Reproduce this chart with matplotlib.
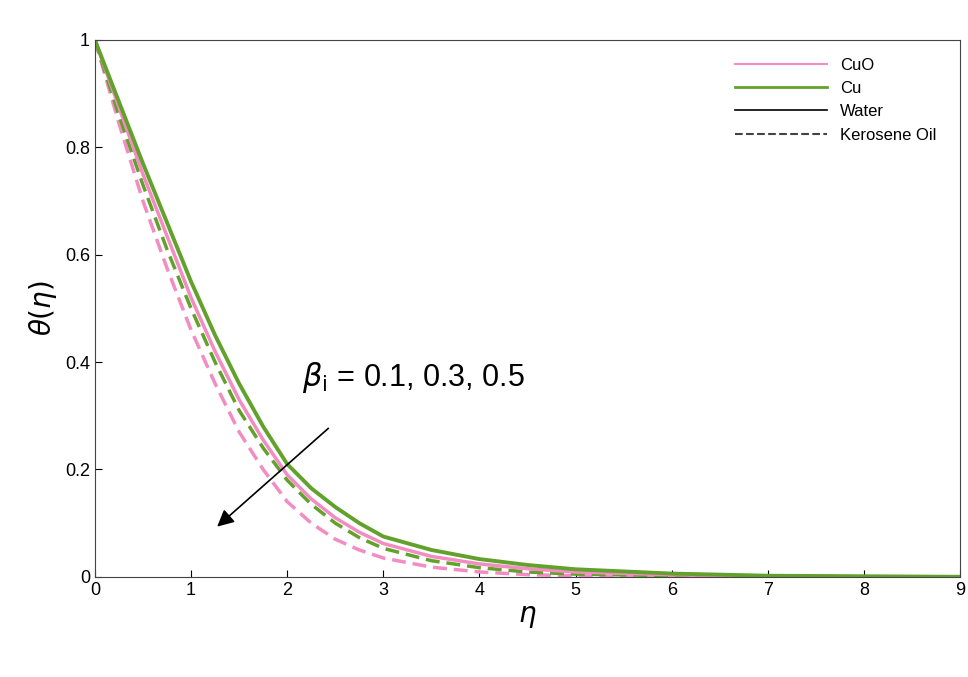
import matplotlib
matplotlib.use("Agg")
import matplotlib.pyplot as plt
from matplotlib.lines import Line2D

plt.rcParams["font.family"] = "Liberation Sans"

eta = [0, 0.25, 0.5, 0.75, 1, 1.25, 1.5, 1.75, 2, 2.25, 2.5, 2.75, 3, 3.5, 4, 4.5, 5, 6, 7, 8, 9]
cu_water =  [1, 0.885, 0.77, 0.66, 0.55, 0.45, 0.36, 0.28, 0.21, 0.165, 0.13, 0.10, 0.075, 0.05, 0.033, 0.022, 0.014, 0.006, 0.002, 0.001, 0]
cuo_water = [1, 0.875, 0.75, 0.635, 0.52, 0.42, 0.33, 0.255, 0.19, 0.145, 0.11, 0.083, 0.062, 0.038, 0.024, 0.015, 0.009, 0.004, 0.001, 0, 0]
cu_kero =   [1, 0.86, 0.73, 0.61, 0.50, 0.40, 0.31, 0.24, 0.18, 0.135, 0.10, 0.073, 0.053, 0.03, 0.017, 0.009, 0.005, 0.002, 0.001, 0, 0]
cuo_kero =  [1, 0.845, 0.70, 0.575, 0.46, 0.36, 0.27, 0.20, 0.14, 0.10, 0.07, 0.05, 0.035, 0.018, 0.009, 0.004, 0.002, 0, 0, 0, 0]

green = "#62a12c"
pink = "#f38cc2"

fig = plt.figure(figsize=(9.68, 6.77), dpi=100)
ax = fig.add_axes([0.098, 0.148, 0.894, 0.793])
ax.plot(eta, cuo_kero, color=pink, lw=2.5, ls=(0, (4, 2)))
ax.plot(eta, cu_kero, color=green, lw=2.5, ls=(0, (4, 2)))
ax.plot(eta, cuo_water, color=pink, lw=2.5)
ax.plot(eta, cu_water, color=green, lw=2.8)

ax.set_xlim(0, 9)
ax.set_ylim(0, 1)
ax.set_xticks(range(10))
ax.set_yticks([0, 0.2, 0.4, 0.6, 0.8, 1])
ax.set_yticklabels(["0", "0.2", "0.4", "0.6", "0.8", "1"])
ax.tick_params(direction="in", labelsize=13, length=5, top=False, right=False)
for s in ax.spines.values():
    s.set_color("#444444")
ax.set_xlabel(r"$\eta$", fontsize=20)
ax.set_ylabel(r"$\theta(\eta)$", fontsize=20)

handles = [Line2D([], [], color=pink, lw=1.5), Line2D([], [], color=green, lw=2),
           Line2D([], [], color="black", lw=1.2), Line2D([], [], color="#444444", lw=1.5, ls="--")]
ax.legend(handles, ["CuO", "Cu", "Water", "Kerosene Oil"], loc="upper right",
          frameon=False, fontsize=12, handlelength=5.5, bbox_to_anchor=(0.99, 0.995))

ax.text(2.15, 0.355, r"$\beta_{\rm i}$ = 0.1, 0.3, 0.5", fontsize=22)
ax.annotate("", xy=(1.25, 0.09), xytext=(2.45, 0.28),
            arrowprops=dict(arrowstyle="-|>", color="black", lw=1.2, mutation_scale=25))

fig.savefig("out.png", dpi=100)
